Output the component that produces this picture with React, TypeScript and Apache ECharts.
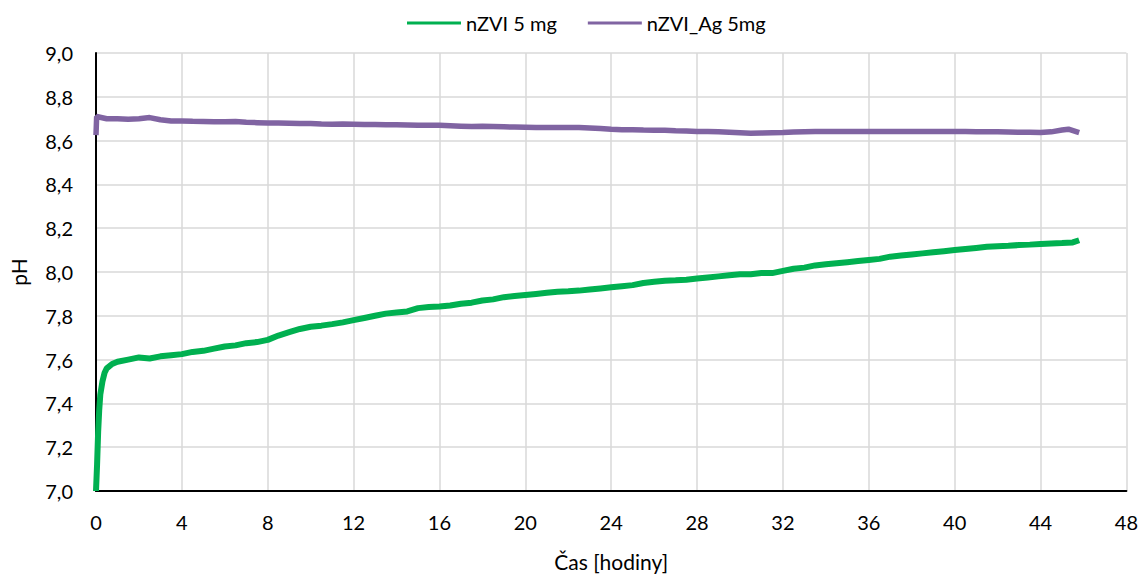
import React, { useEffect, useRef } from "react";
import * as echarts from "echarts";

const seriesNames = ["nZVI 5 mg", "nZVI_Ag 5mg"];
const seriesColors = ["#00B050", "#8064A2"];

const greenTime = [
  0, 0.05, 0.1, 0.15, 0.2, 0.3, 0.4, 0.5, 0.75, 1.0, 1.5, 2.0, 2.5, 3.0, 3.5, 4.0, 4.5, 5.0, 5.5, 6.0,
  6.5, 7.0, 7.5, 8.0, 8.5, 9.0, 9.5, 10.0, 10.5, 11.0, 11.5, 12.0, 12.5, 13.0, 13.5, 14.0, 14.5, 15.0,
  15.5, 16.0, 16.5, 17.0, 17.5, 18.0, 18.5, 19.0, 19.5, 20.0, 20.5, 21.0, 21.5, 22.0, 22.5, 23.0, 23.5,
  24.0, 24.5, 25.0, 25.5, 26.0, 26.5, 27.0, 27.5, 28.0, 28.5, 29.0, 29.5, 30.0, 30.5, 31.0, 31.5, 32.0,
  32.5, 33.0, 33.5, 34.0, 34.5, 35.0, 35.5, 36.0, 36.5, 37.0, 37.5, 38.0, 38.5, 39.0, 39.5, 40.0, 40.5,
  41.0, 41.5, 42.0, 42.5, 43.0, 43.5, 44.0, 44.5, 45.0, 45.5, 45.8,
];
const greenPH = [
  7.0, 7.12, 7.27, 7.37, 7.44, 7.5, 7.54, 7.56, 7.58, 7.59, 7.6, 7.61, 7.605, 7.615, 7.62, 7.625, 7.635,
  7.64, 7.65, 7.66, 7.665, 7.675, 7.68, 7.69, 7.71, 7.725, 7.74, 7.75, 7.755, 7.762, 7.77, 7.78, 7.79,
  7.8, 7.81, 7.815, 7.82, 7.835, 7.84, 7.842, 7.847, 7.855, 7.86, 7.87, 7.875, 7.885, 7.89, 7.895, 7.9,
  7.905, 7.91, 7.912, 7.915, 7.92, 7.925, 7.93, 7.935, 7.94, 7.95, 7.955, 7.96, 7.962, 7.965, 7.97,
  7.975, 7.98, 7.985, 7.99, 7.99, 7.995, 7.995, 8.005, 8.015, 8.02, 8.03, 8.035, 8.04, 8.045, 8.05,
  8.055, 8.06, 8.07, 8.075, 8.08, 8.085, 8.09, 8.095, 8.1, 8.105, 8.11, 8.115, 8.118, 8.12, 8.123,
  8.125, 8.128, 8.13, 8.132, 8.135, 8.145,
];

const purpleTime = [
  0, 0.03, 0.5, 1.0, 1.5, 2.0, 2.5, 3.0, 3.5, 4.0, 4.5, 5.0, 5.5, 6.0, 6.5, 7.0, 7.5, 8.0, 8.5, 9.0,
  9.5, 10.0, 10.5, 11.0, 11.5, 12.0, 12.5, 13.0, 13.5, 14.0, 14.5, 15.0, 15.5, 16.0, 16.5, 17.0, 17.5,
  18.0, 18.5, 19.0, 19.5, 20.0, 20.5, 21.0, 21.5, 22.0, 22.5, 23.0, 23.5, 24.0, 24.5, 25.0, 25.5, 26.0,
  26.5, 27.0, 27.5, 28.0, 28.5, 29.0, 29.5, 30.0, 30.5, 31.0, 31.5, 32.0, 32.5, 33.0, 33.5, 34.0, 34.5,
  35.0, 35.5, 36.0, 36.5, 37.0, 37.5, 38.0, 38.5, 39.0, 39.5, 40.0, 40.5, 41.0, 41.5, 42.0, 42.5, 43.0,
  43.5, 44.0, 44.5, 45.0, 45.3, 45.8,
];
const purplePH = [
  8.625, 8.71, 8.7, 8.7, 8.698, 8.7, 8.705, 8.695, 8.69, 8.69, 8.688, 8.687, 8.686, 8.686, 8.687, 8.684,
  8.682, 8.68, 8.68, 8.679, 8.678, 8.678, 8.676, 8.675, 8.676, 8.675, 8.674, 8.673, 8.672, 8.672, 8.671,
  8.67, 8.67, 8.67, 8.668, 8.666, 8.664, 8.665, 8.664, 8.663, 8.662, 8.661, 8.66, 8.66, 8.66, 8.66,
  8.66, 8.658, 8.655, 8.652, 8.65, 8.65, 8.648, 8.647, 8.647, 8.645, 8.644, 8.642, 8.641, 8.64, 8.638,
  8.636, 8.634, 8.635, 8.636, 8.637, 8.639, 8.64, 8.641, 8.641, 8.642, 8.642, 8.642, 8.642, 8.642,
  8.641, 8.642, 8.641, 8.641, 8.642, 8.641, 8.642, 8.641, 8.64, 8.64, 8.64, 8.639, 8.638, 8.638,
  8.637, 8.64, 8.648, 8.652, 8.636,
];

const xTicks = { min: 0, max: 48, interval: 4 };
const yTicks = { min: 7.0, max: 9.0, interval: 0.2 };

const FONT = "Lato, 'Open Sans', sans-serif";

export default function App() {
  const ref = useRef<HTMLDivElement>(null);
  useEffect(() => {
    if (!ref.current) return;
    const chart = echarts.init(ref.current, undefined, { renderer: "svg" });
    const greenData = greenTime.map((t, i) => [t, greenPH[i]]);
    const purpleData = purpleTime.map((t, i) => [t, purplePH[i]]);
    chart.setOption({
      animation: false,
      textStyle: { fontFamily: FONT },
      legend: {
        top: 8,
        left: 402,
        itemWidth: 54,
        itemHeight: 3,
        itemGap: 31,
        icon: "rect",
        textStyle: { fontFamily: FONT, fontSize: 20, color: "#000" },
        data: seriesNames,
      },
      grid: { left: 95, width: 1032, top: 53, height: 443, containLabel: false },
      xAxis: {
        type: "value",
        min: xTicks.min,
        max: xTicks.max,
        interval: xTicks.interval,
        name: "Čas [hodiny]",
        nameLocation: "middle",
        nameGap: 60,
        nameTextStyle: { fontFamily: FONT, fontSize: 21, color: "#000" },
        axisLine: { show: true, onZero: false, lineStyle: { color: "#000", width: 2 } },
        axisTick: { show: false },
        axisLabel: { margin: 21, fontFamily: FONT, fontSize: 20, color: "#000" },
        splitLine: { show: true, lineStyle: { color: "#D9D9D9", width: 1.5 } },
      },
      yAxis: {
        type: "value",
        min: yTicks.min,
        max: yTicks.max,
        interval: yTicks.interval,
        name: "pH",
        nameLocation: "middle",
        nameGap: 67,
        nameRotate: 90,
        nameTextStyle: { fontFamily: FONT, fontSize: 21, color: "#000" },
        axisLine: { show: true, onZero: false, lineStyle: { color: "#000", width: 2 } },
        axisTick: { show: false },
        axisLabel: {
          margin: 23,
          fontFamily: FONT,
          fontSize: 20,
          color: "#000",
          formatter: (v: number) => v.toFixed(1).replace(".", ","),
        },
        splitLine: { show: true, lineStyle: { color: "#D9D9D9", width: 1.5 } },
      },
      series: [
        {
          name: seriesNames[0],
          type: "line",
          data: greenData,
          showSymbol: false,
          color: seriesColors[0],
          lineStyle: { color: seriesColors[0], width: 6 },
        },
        {
          name: seriesNames[1],
          type: "line",
          data: purpleData,
          showSymbol: false,
          color: seriesColors[1],
          lineStyle: { color: seriesColors[1], width: 5.5 },
        },
      ],
    });
    return () => chart.dispose();
  }, []);
  return (
    <div
      ref={ref}
      style={{ position: "absolute", left: 0, top: 0, width: 1141, height: 577, background: "#fff" }}
    />
  );
}
